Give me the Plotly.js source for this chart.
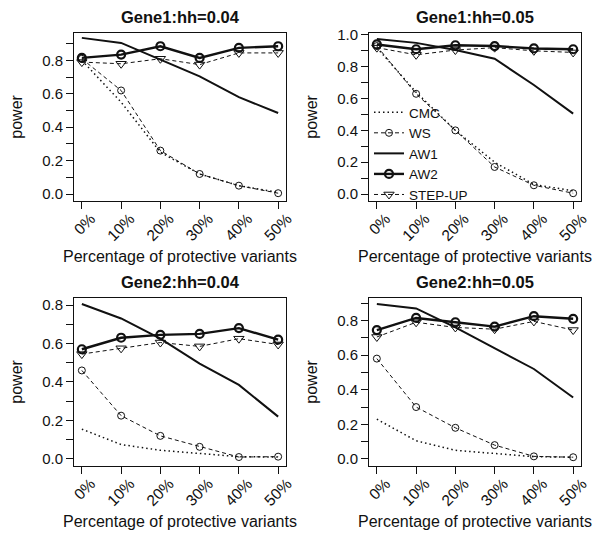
<!DOCTYPE html>
<html>
<head>
<meta charset="utf-8">
<script src="https://cdn.plot.ly/plotly-3.0.1.min.js"></script>
<style>html,body{margin:0;padding:0;background:#fff;}#chart{width:595px;height:535px;}</style>
</head>
<body>
<div id="chart"></div>
<script>
// ---- data ----
const categories = ['0%', '10%', '20%', '30%', '40%', '50%'];
const seriesNames = ['CMC', 'WS', 'AW1', 'AW2', 'STEP-UP'];
const panelTitles = ['Gene1:hh=0.04', 'Gene1:hh=0.05', 'Gene2:hh=0.04', 'Gene2:hh=0.05'];

// Gene1, hh=0.04
const g1h04_CMC  = [0.80, 0.55, 0.25, 0.12, 0.05, 0.01];
const g1h04_WS   = [0.81, 0.62, 0.26, 0.12, 0.05, 0.005];
const g1h04_AW1  = [0.935, 0.905, 0.805, 0.705, 0.58, 0.485];
const g1h04_AW2  = [0.815, 0.835, 0.885, 0.815, 0.875, 0.885];
const g1h04_STEP = [0.79, 0.78, 0.81, 0.775, 0.845, 0.845];

// Gene1, hh=0.05
const g1h05_CMC  = [0.92, 0.64, 0.40, 0.20, 0.06, 0.02];
const g1h05_WS   = [0.93, 0.63, 0.40, 0.17, 0.055, 0.005];
const g1h05_AW1  = [0.975, 0.95, 0.905, 0.85, 0.685, 0.505];
const g1h05_AW2  = [0.94, 0.91, 0.935, 0.93, 0.915, 0.91];
const g1h05_STEP = [0.92, 0.875, 0.905, 0.92, 0.90, 0.89];

// Gene2, hh=0.04
const g2h04_CMC  = [0.155, 0.075, 0.045, 0.03, 0.012, 0.01];
const g2h04_WS   = [0.46, 0.225, 0.12, 0.063, 0.01, 0.012];
const g2h04_AW1  = [0.805, 0.73, 0.625, 0.495, 0.385, 0.22];
const g2h04_AW2  = [0.57, 0.63, 0.645, 0.65, 0.68, 0.62];
const g2h04_STEP = [0.545, 0.575, 0.605, 0.585, 0.625, 0.595];

// Gene2, hh=0.05
const g2h05_CMC  = [0.23, 0.105, 0.05, 0.033, 0.013, 0.01];
const g2h05_WS   = [0.58, 0.30, 0.18, 0.08, 0.015, 0.01];
const g2h05_AW1  = [0.895, 0.87, 0.76, 0.64, 0.52, 0.355];
const g2h05_AW2  = [0.745, 0.815, 0.79, 0.765, 0.825, 0.81];
const g2h05_STEP = [0.705, 0.79, 0.76, 0.75, 0.795, 0.745];

// y tick values per panel (labels every 0.2)
const yTicks1 = [0, 0.1, 0.2, 0.3, 0.4, 0.5, 0.6, 0.7, 0.8, 0.9];
const yTicks2 = [0, 0.1, 0.2, 0.3, 0.4, 0.5, 0.6, 0.7, 0.8, 0.9, 1.0];
const yTicks3 = [0, 0.1, 0.2, 0.3, 0.4, 0.5, 0.6, 0.7, 0.8];
const yTicks4 = [0, 0.1, 0.2, 0.3, 0.4, 0.5, 0.6, 0.7, 0.8, 0.9];

// ---- build ----
const W = 595, H = 535;
const FONT = 'Liberation Sans, Arial, Helvetica, sans-serif';
const INK = '#111111';

const panels = [
  {data: [g1h04_CMC, g1h04_WS, g1h04_AW1, g1h04_AW2, g1h04_STEP], ticks: yTicks1, range: [-0.04, 0.966], col: 0, row: 0},
  {data: [g1h05_CMC, g1h05_WS, g1h05_AW1, g1h05_AW2, g1h05_STEP], ticks: yTicks2, range: [-0.042, 1.014], col: 1, row: 0},
  {data: [g2h04_CMC, g2h04_WS, g2h04_AW1, g2h04_AW2, g2h04_STEP], ticks: yTicks3, range: [-0.035, 0.838], col: 0, row: 1},
  {data: [g2h05_CMC, g2h05_WS, g2h05_AW1, g2h05_AW2, g2h05_STEP], ticks: yTicks4, range: [-0.039, 0.932], col: 1, row: 1}
];

const styles = [
  {mode: 'lines', line: {color: INK, width: 1.5, dash: '1.5px,3px'}},
  {mode: 'lines+markers', line: {color: INK, width: 1, dash: '4px,3px'},
   marker: {symbol: 'circle-open', size: 7, color: INK, line: {width: 1, color: INK}}},
  {mode: 'lines', line: {color: INK, width: 2}},
  {mode: 'lines+markers', line: {color: INK, width: 2.4},
   marker: {symbol: 'circle-open', size: 8, color: INK, line: {width: 2.2, color: INK}}},
  {mode: 'lines+markers', line: {color: INK, width: 1, dash: '4px,3px'},
   marker: {symbol: 'triangle-down-open', size: 9, color: INK, line: {width: 1, color: INK}}}
];

// panel boxes in pixels
const colX = [[74, 286], [369, 581]];
const rowY = [[32.7, 200.7], [297.7, 465.7]];

const traces = [];
const layout = {
  width: W, height: H,
  margin: {l: 0, r: 0, t: 0, b: 0},
  paper_bgcolor: '#fff', plot_bgcolor: '#fff',
  font: {family: FONT, color: INK},
  showlegend: true,
  legend: {
    x: 369 / W, xanchor: 'left', y: (H - 97) / H, yanchor: 'top',
    bgcolor: 'rgba(0,0,0,0)', borderwidth: 0,
    font: {family: FONT, size: 13.5, color: INK},
    tracegroupgap: 0, itemwidth: 30
  },
  annotations: []
};

panels.forEach((p, i) => {
  const n = i + 1;
  const xa = 'xaxis' + (n === 1 ? '' : n), ya = 'yaxis' + (n === 1 ? '' : n);
  const xr = 'x' + (n === 1 ? '' : n), yr = 'y' + (n === 1 ? '' : n);
  const [x0, x1] = colX[p.col];
  const [y0, y1] = rowY[p.row];
  layout[xa] = {
    domain: [x0 / W, x1 / W], anchor: yr, type: 'category',
    range: [-0.2, 5.2], showgrid: false, zeroline: false,
    showline: true, mirror: true, linecolor: INK, linewidth: 1,
    ticks: 'outside', ticklen: 7, tickcolor: INK, tickwidth: 1,
    tickangle: -45, tickfont: {family: FONT, size: 15.5, color: INK},
    ticklabelshift: 9, ticklabelstandoff: -5,
    fixedrange: true
  };
  layout[ya] = {
    domain: [(H - y1) / H, (H - y0) / H], anchor: xr,
    range: p.range, showgrid: false, zeroline: false,
    showline: true, mirror: true, linecolor: INK, linewidth: 1,
    ticks: 'outside', ticklen: 7, tickcolor: INK, tickwidth: 1,
    tickvals: p.ticks,
    ticktext: p.ticks.map(v => (Math.round(v * 10) % 2 === 0 ? v.toFixed(1) : '')),
    tickfont: {family: FONT, size: 15, color: INK},
    fixedrange: true
  };
  p.data.forEach((vals, k) => {
    traces.push(Object.assign({
      type: 'scatter', x: categories, y: vals, name: seriesNames[k],
      xaxis: xr, yaxis: yr, showlegend: i === 1, legendgroup: seriesNames[k],
      cliponaxis: false, hoverinfo: 'skip'
    }, JSON.parse(JSON.stringify(styles[k]))));
  });
  const cx = (x0 + x1) / 2 / W;
  layout.annotations.push({
    text: panelTitles[i], xref: 'paper', yref: 'paper', x: cx, y: (H - (y0 - 15.5)) / H,
    xanchor: 'center', yanchor: 'middle', showarrow: false,
    font: {family: FONT, size: 16.5, weight: 700, color: INK}
  });
  layout.annotations.push({
    text: 'Percentage of protective variants', xref: 'paper', yref: 'paper', x: cx,
    y: (H - (y1 + 56)) / H, xanchor: 'center', yanchor: 'middle', showarrow: false,
    font: {family: FONT, size: 16, color: INK}
  });
  layout.annotations.push({
    text: 'power', xref: 'paper', yref: 'paper', x: (x0 - 57) / W,
    y: (H - (y0 + y1) / 2) / H, xanchor: 'center', yanchor: 'middle', showarrow: false,
    textangle: -90, font: {family: FONT, size: 16, color: INK}
  });
});

Plotly.newPlot('chart', traces, layout, {displayModeBar: false, staticPlot: true});
</script>
</body>
</html>
